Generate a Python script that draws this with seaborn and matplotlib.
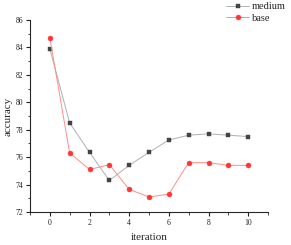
import matplotlib
matplotlib.use("Agg")
import matplotlib.pyplot as plt
from matplotlib.ticker import MultipleLocator
import seaborn as sns
import pandas as pd

iterations = [0, 1, 2, 3, 4, 5, 6, 7, 8, 9, 10]
medium = [83.9, 78.5, 76.35, 74.3, 75.4, 76.35, 77.25, 77.6, 77.7, 77.6, 77.5]
base = [84.7, 76.3, 75.1, 75.45, 73.65, 73.1, 73.3, 75.6, 75.6, 75.4, 75.4]

sns.set_style("ticks")
plt.rcParams['font.family'] = ['Liberation Serif', 'DejaVu Serif']

df = pd.DataFrame({"iteration": iterations * 2,
                   "accuracy": medium + base,
                   "series": ["medium"] * len(iterations) + ["base"] * len(iterations)})

fig = plt.figure(figsize=(2.91, 2.45), dpi=100)
ax = fig.add_axes([30/291, 1 - 212/245, (268-30)/291, (212-20)/245])

sns.lineplot(data=df[df.series == "medium"], x="iteration", y="accuracy", ax=ax,
             color="#b0b0b0", lw=0.7, marker="s", markersize=3.3, markeredgewidth=0.3,
             markerfacecolor="#444444", markeredgecolor="#444444", label="medium")
sns.lineplot(data=df[df.series == "base"], x="iteration", y="accuracy", ax=ax,
             color="#ff8c8c", lw=0.7, marker="o", markersize=3.6, markeredgewidth=0.3,
             markerfacecolor="#ff3535", markeredgecolor="#ff3535", label="base")

ax.set_xlim(-1, 11)
ax.set_ylim(72, 86)
ax.xaxis.set_major_locator(MultipleLocator(2))
ax.xaxis.set_minor_locator(MultipleLocator(1))
ax.yaxis.set_major_locator(MultipleLocator(2))
ax.yaxis.set_minor_locator(MultipleLocator(1))
ax.tick_params(which="major", direction="out", length=3, width=0.8, labelsize=5.5, pad=2, colors="#222222")
ax.tick_params(which="minor", direction="out", length=1.8, width=0.6)
for s in ["top", "right"]:
    ax.spines[s].set_visible(False)
for s in ["left", "bottom"]:
    ax.spines[s].set_linewidth(0.8)
ax.set_xlabel("iteration", fontsize=8, labelpad=4)
ax.set_ylabel("accuracy", fontsize=8, labelpad=2)

leg = ax.legend(loc="upper left", bbox_to_anchor=(224/291, 1.0), bbox_transform=fig.transFigure,
                frameon=False, fontsize=7.5, handlelength=2.2, borderaxespad=0.1,
                labelspacing=0.2, handletextpad=0.3, borderpad=0.1)

fig.savefig("out.png", dpi=100)
